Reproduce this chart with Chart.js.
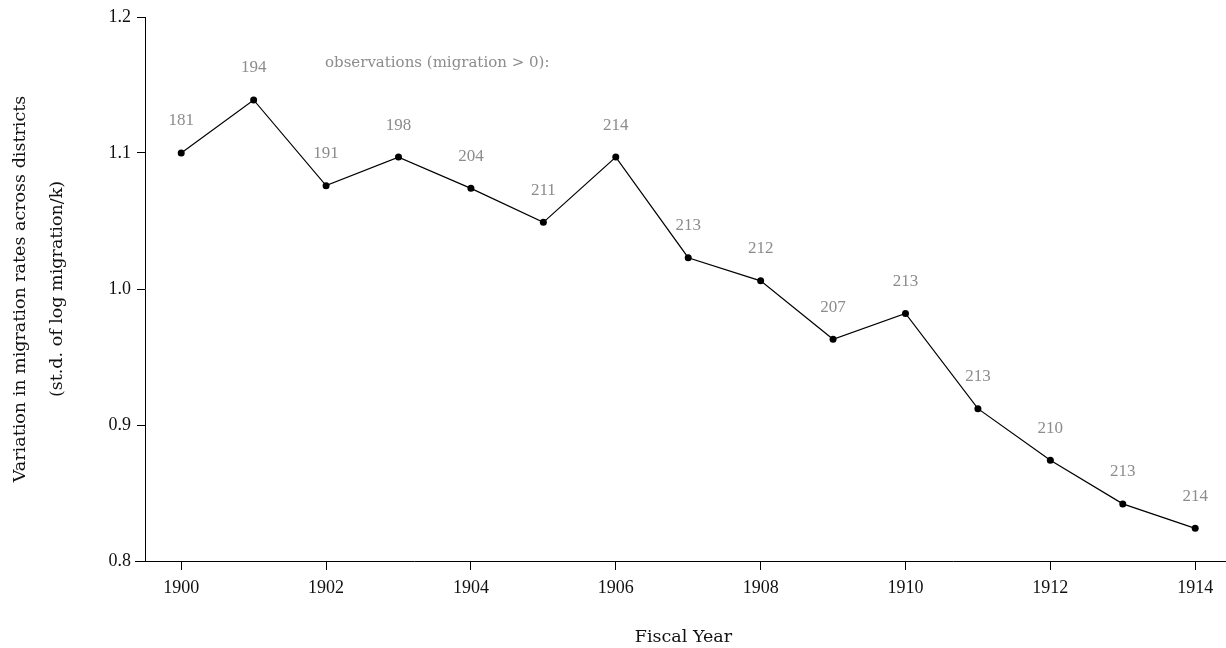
<!DOCTYPE html>
<html>
<head>
<meta charset="utf-8">
<script src="https://cdn.jsdelivr.net/npm/chart.js@4"></script>
<style>
html,body{margin:0;padding:0;background:#fff;}
#wrap{width:1226px;height:648px;}
</style>
</head>
<body>
<div id="wrap"><canvas id="c" width="1226" height="648"></canvas></div>
<script>
const years = [1900,1901,1902,1903,1904,1905,1906,1907,1908,1909,1910,1911,1912,1913,1914];
const variation = [1.100,1.139,1.076,1.097,1.074,1.049,1.097,1.023,1.006,0.963,0.982,0.912,0.874,0.842,0.824];
const observations = [181,194,191,198,204,211,214,213,212,207,213,213,210,213,214];
const xTicks = [1900,1902,1904,1906,1908,1910,1912,1914];
const yTicks = [0.8,0.9,1.0,1.1,1.2];
const obsTitle = 'observations (migration > 0):';

const FONT = "'Liberation Serif', 'DejaVu Serif', serif";
const TFONT = "'DejaVu Serif', 'Liberation Serif', serif";
const GRAY = '#8c8c8c';

const annot = {
  id: 'annot',
  afterDatasetsDraw(chart) {
    const ctx = chart.ctx;
    const xs = chart.scales.x, ys = chart.scales.y;
    ctx.save();
    ctx.fillStyle = GRAY;
    ctx.font = '17px ' + FONT;
    ctx.textAlign = 'center';
    ctx.textBaseline = 'middle';
    years.forEach((yr, i) => {
      ctx.fillText(String(observations[i]), xs.getPixelForValue(yr), ys.getPixelForValue(variation[i]) - 32);
    });
    ctx.textAlign = 'left';
    ctx.font = '15px ' + TFONT;
    ctx.fillText(obsTitle, 325, 63);
    // extend x axis line beyond the plot area on both sides
    const yb = Math.round(chart.chartArea.bottom) + 0.5;
    ctx.strokeStyle = '#000';
    ctx.lineWidth = 1;
    ctx.beginPath();
    ctx.moveTo(135, yb);
    ctx.lineTo(chart.chartArea.left, yb);
    ctx.moveTo(chart.chartArea.right, yb);
    ctx.lineTo(1226, yb);
    ctx.stroke();
    ctx.restore();
  }
};

new Chart(document.getElementById('c'), {
  type: 'line',
  data: {
    datasets: [{
      data: years.map((y, i) => ({x: y, y: variation[i]})),
      borderColor: '#000',
      backgroundColor: '#000',
      borderWidth: 1.2,
      pointRadius: 3.5,
      pointBackgroundColor: '#000',
      pointBorderWidth: 0,
      tension: 0,
      fill: false
    }]
  },
  options: {
    responsive: false,
    animation: false,
    layout: {padding: {top: 17, right: 0, left: 0, bottom: 0}},
    plugins: {legend: {display: false}, tooltip: {enabled: false}},
    scales: {
      x: {
        type: 'linear',
        min: 1899.5,
        max: 1914.37,
        afterBuildTicks: s => { s.ticks = xTicks.map(v => ({value: v})); },
        afterFit: s => { s.height = 87; },
        grid: {drawOnChartArea: false, drawTicks: true, tickLength: 9, color: '#000'},
        border: {display: true, color: '#000', width: 1},
        ticks: {
          color: '#111',
          font: {family: FONT, size: 18},
          padding: 7,
          maxRotation: 0,
          callback: v => String(v)
        },
        title: {
          display: true,
          text: 'Fiscal Year',
          color: '#111',
          font: {family: TFONT, size: 17.5},
          padding: {top: 20, bottom: 0}
        }
      },
      y: {
        min: 0.8,
        max: 1.2,
        afterBuildTicks: s => { s.ticks = yTicks.map(v => ({value: v})); },
        afterFit: s => { s.width = 145; },
        grid: {drawOnChartArea: false, drawTicks: true, tickLength: 8, color: '#000'},
        border: {display: true, color: '#000', width: 1},
        ticks: {
          color: '#111',
          font: {family: FONT, size: 18},
          padding: 6,
          callback: v => v.toFixed(1)
        },
        title: {
          display: true,
          text: ['Variation in migration rates across districts', '(st.d. of log migration/k)'],
          color: '#111',
          font: {family: TFONT, size: 17.5, lineHeight: 2.1},
          padding: {top: 2, bottom: 0}
        }
      }
    }
  },
  plugins: [annot]
});
</script>
</body>
</html>
